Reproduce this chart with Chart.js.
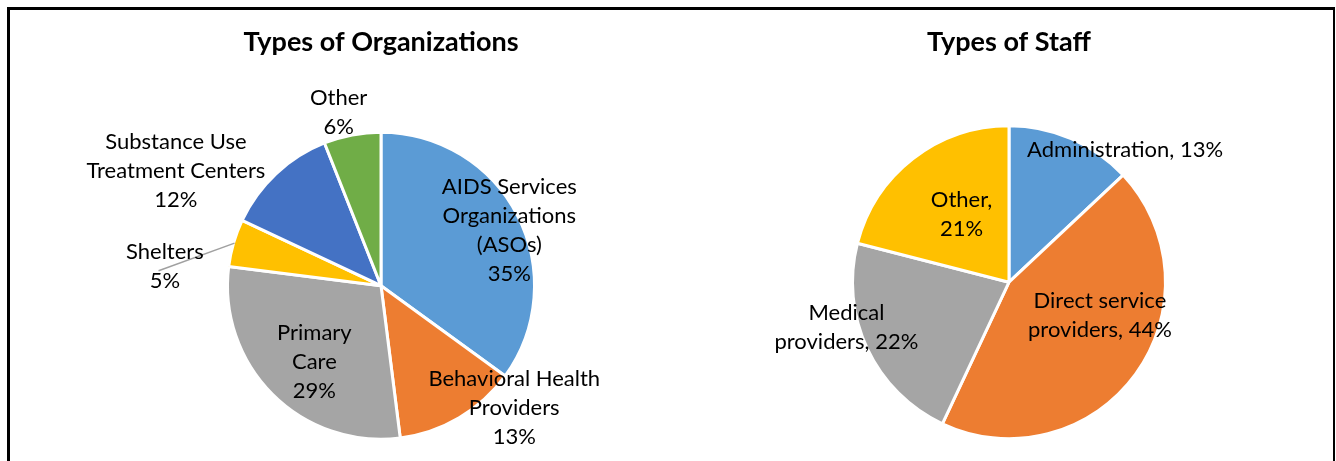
<!DOCTYPE html>
<html>
<head>
<meta charset="utf-8">
<title>Types of Organizations / Types of Staff</title>
<script src="https://cdn.jsdelivr.net/npm/chart.js@4.4.0/dist/chart.umd.min.js"></script>
<style>
  html, body { margin: 0; padding: 0; background: #fff; overflow: hidden; width: 1336px; height: 461px; }
  #frame {
    position: absolute; left: 7px; top: 7px; width: 1328px; height: 500px;
    border-style: solid; border-color: #000;
    border-width: 3px 2px 0 3px; box-sizing: border-box;
  }
  .wrap { position: absolute; top: 0; }
  #orgWrap { left: 0; }
  #staffWrap { left: 682px; }
</style>
</head>
<body>
<div id="frame"></div>
<div class="wrap" id="orgWrap"><canvas id="orgChart" width="762" height="520"></canvas></div>
<div class="wrap" id="staffWrap"><canvas id="staffChart" width="654" height="520"></canvas></div>

<script>
// Datos
const orgNames = ['AIDS Services\nOrganizations\n(ASOs)', 'Behavioral Health\nProviders', 'Primary\nCare',
                  'Shelters', 'Substance Use\nTreatment Centers', 'Other'];
const orgValues = [35, 13, 29, 5, 12, 6];
const orgColors = ['#5B9BD5', '#ED7D31', '#A5A5A5', '#FFC000', '#4472C4', '#70AD47'];

const staffNames = ['Administration', 'Direct service\nproviders', 'Medical\nproviders', 'Other'];
const staffValues = [13, 44, 22, 21];
const staffSeparators = [', ', ', ', ', ', ',\n'];
const staffColors = ['#5B9BD5', '#ED7D31', '#A5A5A5', '#FFC000'];

const FONT = 'Lato, "Open Sans", sans-serif';

// Etiquetas dentro/fuera de cada porción (posición relativa al radio)
const sliceLabels = {
  id: 'sliceLabels',
  afterDatasetsDraw(chart, args, opts) {
    const ctx = chart.ctx;
    const arcs = chart.getDatasetMeta(0).data;
    ctx.save();

    if (opts.leader) {
      const arc = arcs[opts.leader.index];
      const mid = (arc.startAngle + arc.endAngle) / 2;
      const r = arc.outerRadius;
      ctx.strokeStyle = '#A0A0A0';
      ctx.lineWidth = 1.5;
      ctx.beginPath();
      ctx.moveTo(arc.x + Math.cos(mid) * (r - 1), arc.y + Math.sin(mid) * (r - 1));
      ctx.lineTo(arc.x + opts.leader.to[0] * r, arc.y + opts.leader.to[1] * r);
      ctx.stroke();
    }

    ctx.font = opts.font;
    ctx.fillStyle = '#000';
    ctx.textAlign = 'center';
    ctx.textBaseline = 'middle';
    arcs.forEach((arc, i) => {
      const r = arc.outerRadius;
      const [fx, fy] = opts.offsets[i];
      const lines = opts.texts[i].split('\n');
      const x = arc.x + fx * r;
      const y0 = arc.y + fy * r + 2 - (lines.length - 1) * opts.lineHeight / 2;
      lines.forEach((ln, k) => ctx.fillText(ln, x, y0 + k * opts.lineHeight));
    });
    ctx.restore();
  }
};

function crearPie(id, titulo, nombres, valores, colores, textos, offsets, radio, padAbajo, leader) {
  return new Chart(document.getElementById(id), {
    type: 'pie',
    data: {
      labels: nombres,
      datasets: [{
        data: valores,
        backgroundColor: colores,
        borderColor: '#fff',
        borderWidth: 3
      }]
    },
    options: {
      responsive: false,
      animation: false,
      radius: radio,
      layout: { padding: { top: 0, bottom: padAbajo, left: 0, right: 0 } },
      plugins: {
        legend: { display: false },
        tooltip: { enabled: false },
        title: {
          display: true,
          text: titulo,
          color: '#000',
          font: { family: FONT, size: 27, weight: 'bold' },
          padding: { top: 26, bottom: 0 }
        },
        sliceLabels: {
          font: '22px ' + FONT,
          lineHeight: 29,
          texts: textos,
          offsets: offsets,
          leader: leader
        }
      }
    },
    plugins: [sliceLabels]
  });
}

const orgTexts = orgNames.map((n, i) => n + '\n' + orgValues[i] + '%');
crearPie('orgChart', 'Types of Organizations', orgNames, orgValues, orgColors, orgTexts,
  [[0.836, -0.375], [0.868, 0.786], [-0.434, 0.484], [-1.408, -0.138], [-1.336, -0.760], [-0.276, -1.141]],
  153.5, 7, { index: 3, to: [-1.449, -0.097] });

const staffTexts = staffNames.map((n, i) => n + staffSeparators[i] + staffValues[i] + '%');
crearPie('staffChart', 'Types of Staff', staffNames, staffValues, staffColors, staffTexts,
  [[0.742, -0.858], [0.581, 0.197], [-1.039, 0.274], [-0.303, -0.445]],
  156.5, 14, null);
</script>
</body>
</html>
